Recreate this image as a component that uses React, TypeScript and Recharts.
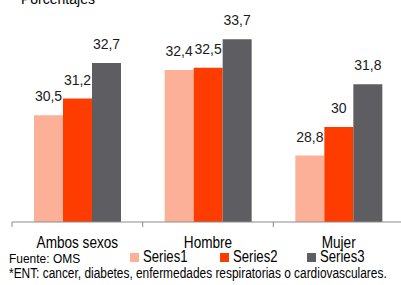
import { BarChart, Bar, XAxis, YAxis, LabelList } from 'recharts';

const categories = ['Ambos sexos', 'Hombre', 'Mujer'];
const series1 = [30.5, 32.4, 28.8];
const series2 = [31.2, 32.5, 30];
const series3 = [32.7, 33.7, 31.8];
const seriesNames = ['Series1', 'Series2', 'Series3'];
const seriesColors = ['#FBB097', '#FF3C00', '#5E5D62'];
const yDomain = [26, 34];

const data = categories.map((name, i) => ({
  name,
  s1: series1[i],
  s2: series2[i],
  s3: series3[i],
}));

const CHART_W = 404;
const LEFT = 12;
const BAND = (CHART_W - LEFT) / categories.length;

const fmt = (v: any) => String(v).replace('.', ',');

function CategoryTick(props: any) {
  const { x, y, payload } = props;
  return (
    <g>
      <line x1={x - BAND / 2} y1={y} x2={x - BAND / 2} y2={y + 5} stroke="#8c8c8c" />
      <text
        transform={`translate(${x},${y + 26}) scale(0.85,1)`}
        textAnchor="middle"
        fontSize={16}
        fill="#000"
        fontFamily="Liberation Sans"
      >
        {payload.value}
      </text>
    </g>
  );
}

const legendX = [130, 220, 307];

export default function App() {
  const keys = ['s1', 's2', 's3'];
  return (
    <div
      style={{
        position: 'absolute',
        top: 0,
        left: 0,
        width: 401,
        height: 285,
        overflow: 'hidden',
        background: '#fff',
        fontFamily: '"Liberation Sans", Arial, sans-serif',
        color: '#000',
      }}
    >
      <BarChart
        width={CHART_W}
        height={285}
        data={data}
        margin={{ top: 32, right: 0, left: LEFT, bottom: 33 }}
        barSize={29}
        barGap={0}
      >
        <XAxis
          dataKey="name"
          height={30}
          axisLine={{ stroke: '#8c8c8c' }}
          tickLine={false}
          tickSize={0}
          tickMargin={0}
          interval={0}
          tick={<CategoryTick />}
        />
        <YAxis hide domain={yDomain} allowDataOverflow />
        {keys.map((k, i) => (
          <Bar key={k} dataKey={k} name={seriesNames[i]} fill={seriesColors[i]} isAnimationActive={false}>
            <LabelList
              dataKey={k}
              position="top"
              offset={14}
              formatter={fmt}
              style={{ fontSize: 14, fill: '#1a1a1a', fontFamily: 'Liberation Sans' }}
            />
          </Bar>
        ))}
      </BarChart>

      <div style={{ position: 'absolute', left: 21, top: -8, fontSize: 14, lineHeight: '14px', whiteSpace: 'nowrap' }}>
        Porcentajes
      </div>
      <div
        style={{
          position: 'absolute',
          left: 9,
          top: 251.7,
          fontSize: 13,
          lineHeight: '13px',
          whiteSpace: 'nowrap',
          transform: 'scaleX(0.92)',
          transformOrigin: 'left',
        }}
      >
        Fuente: OMS
      </div>
      {seriesNames.map((n, i) => (
        <div key={n} style={{ position: 'absolute', left: legendX[i], top: 249.2, height: 16 }}>
          <div
            style={{
              position: 'absolute',
              left: 0,
              top: 4,
              width: 8.5,
              height: 8.5,
              background: seriesColors[i],
            }}
          />
          <div
            style={{
              position: 'absolute',
              left: 12.5,
              top: 0,
              fontSize: 16,
              lineHeight: '16px',
              whiteSpace: 'nowrap',
              transform: 'scaleX(0.82)',
              transformOrigin: 'left',
            }}
          >
            {n}
          </div>
        </div>
      ))}
      <div
        style={{
          position: 'absolute',
          left: 9,
          top: 266,
          fontSize: 14,
          lineHeight: '14px',
          whiteSpace: 'nowrap',
          transform: 'scaleX(0.85)',
          transformOrigin: 'left',
        }}
      >
        *ENT: cancer, diabetes, enfermedades respiratorias o cardiovasculares.
      </div>
    </div>
  );
}
